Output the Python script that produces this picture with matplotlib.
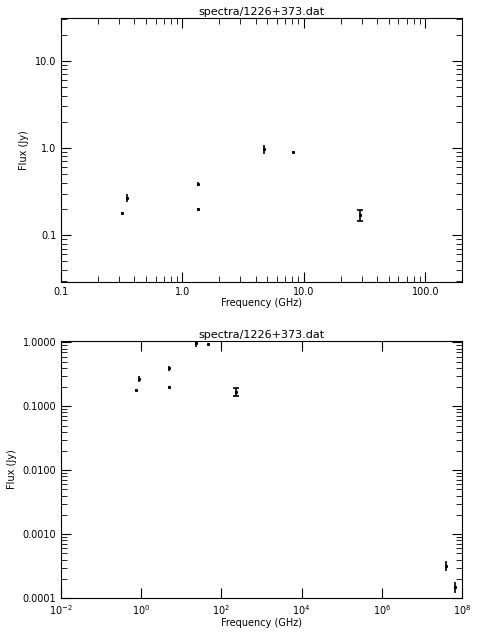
import matplotlib
matplotlib.use("Agg")
import matplotlib.pyplot as plt

title = "spectra/1226+373.dat"
# top panel (GHz)
freq_top = [0.32, 0.35, 1.35, 1.35, 4.7, 8.2, 29.0]
flux_top = [0.18, 0.27, 0.39, 0.20, 0.97, 0.90, 0.17]
err_top = [0.005, 0.03, 0.02, 0.004, 0.12, 0.02, 0.025]
# bottom panel, positions as drawn
freq_bot = [0.75, 0.89, 4.97, 4.97, 23.4, 46.0, 230.0, 4.0e7, 6.8e7]
flux_bot = [0.18, 0.27, 0.39, 0.20, 0.97, 0.93, 0.17, 0.00032, 0.00015]
err_bot = [0.005, 0.03, 0.04, 0.004, 0.12, 0.02, 0.025, 0.00006, 0.00003]

plt.rcParams["font.size"] = 7
fig = plt.figure(figsize=(4.8, 6.4), dpi=100)
W, H = 480, 640


def panel(top, bottom, xlim, ylim, freq, flux, err, xt, xtl, yt, ytl):
    ax = fig.add_axes([61 / W, 1 - bottom / H, 401 / W, (bottom - top) / H])
    ax.set_xscale("log")
    ax.set_yscale("log")
    ax.set_xlim(*xlim)
    ax.set_ylim(*ylim)
    for f, s, e in zip(freq, flux, err):
        cap = 2.5 if (0.1 < s < 0.2 and e > 0.02) else 0
        ax.errorbar(f, s, yerr=e, fmt="none", ecolor="black", lw=1.2,
                    capsize=cap, capthick=1.2)
        ax.plot([f], [s], marker="s", ms=1.2, color="black")
    ax.set_xticks(xt)
    ax.set_xticklabels(xtl)
    ax.set_yticks(yt)
    ax.set_yticklabels(ytl)
    ax.tick_params(which="both", direction="in", top=True, right=True)
    ax.tick_params(which="major", length=7)
    ax.tick_params(which="minor", length=4)
    ax.set_xlabel("Frequency (GHz)", labelpad=1)
    ax.set_ylabel("Flux (Jy)")
    ax.set_title(title, fontsize=8, pad=2)
    return ax


panel(18, 282, (0.1, 200), (0.029, 31), freq_top, flux_top, err_top,
      [0.1, 1, 10, 100], ["0.1", "1.0", "10.0", "100.0"],
      [0.1, 1, 10], ["0.1", "1.0", "10.0"])
ax2 = panel(341, 598, (1e-2, 1e8), (1e-4, 1.05), freq_bot, flux_bot, err_bot,
            [1e-2, 1, 1e2, 1e4, 1e6, 1e8],
            ["$10^{-2}$", "$10^{0}$", "$10^{2}$", "$10^{4}$", "$10^{6}$", "$10^{8}$"],
            [1e-4, 1e-3, 1e-2, 1e-1, 1],
            ["0.0001", "0.0010", "0.0100", "0.1000", "1.0000"])
ax2.xaxis.set_minor_locator(matplotlib.ticker.NullLocator())

fig.savefig("out.png", dpi=100)
